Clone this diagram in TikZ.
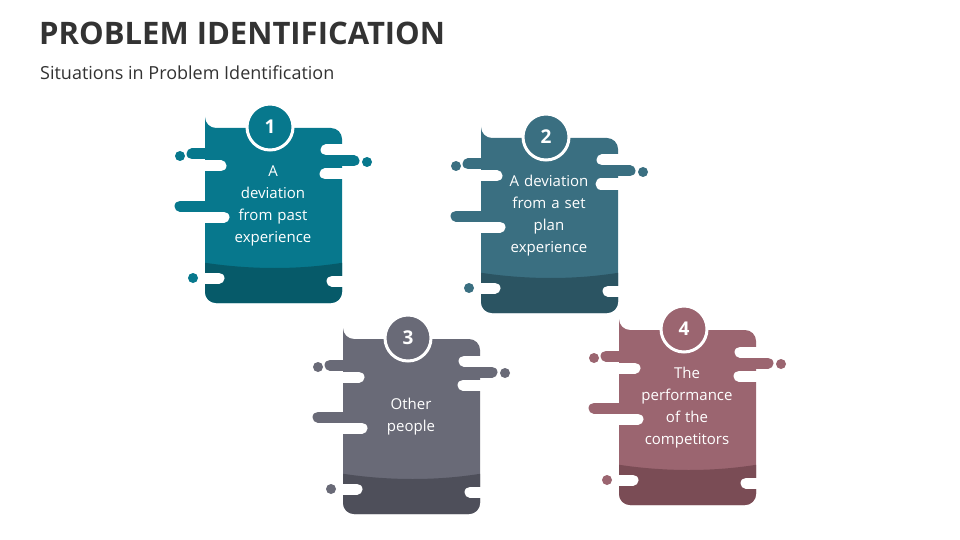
\documentclass[tikz,border=0pt]{standalone}
\usepackage{fontspec}
\setmainfont{Open Sans}
\definecolor{titlec}{HTML}{333333}
\definecolor{ca}{HTML}{07788D}\definecolor{cad}{HTML}{065A69}
\definecolor{cb}{HTML}{3A6F81}\definecolor{cbd}{HTML}{2B5462}
\definecolor{cc}{HTML}{696A77}\definecolor{ccd}{HTML}{4E4F5A}
\definecolor{cd}{HTML}{9B6570}\definecolor{cdd}{HTML}{7A4C55}
\tikzset{pill/.style={line cap=round,line width=11pt},
 txt/.style={text=white,align=center,font=\fontsize{15}{22}\selectfont,text width=95pt},
 num/.style={circle,minimum size=46pt,fill=#1,draw=white,line width=3pt,text=white,font=\bfseries\fontsize{19}{20}\selectfont}}
\newcommand{\mycard}[6]{%
\begin{scope}[shift={(#1,#2)}]
 \fill[#3] (205,128) [rounded corners=11pt] -- (205,128) -- (342,128) -- (342,303) -- (205,303) -- cycle;
 \begin{scope}
 \clip[rounded corners=11pt] (205,128) rectangle (342,303);
 \fill[#4] (200,262) .. controls (250,270) and (300,270) .. (347,262) -- (347,310) -- (200,310) -- cycle;
 \end{scope}
 % left top
 \draw[pill,#3] (192,154) -- (212,154);
 \draw[pill,white] (200,166) -- (221,166);
 \fill[#3] (180,156) circle (5);
 % left mid
 \draw[pill,#3] (180,206) -- (212,206);
 \draw[pill,white] (200,217) -- (224,217);
 % right top
 \draw[pill,white] (326,150) -- (352,150);
 \draw[pill,#3] (335,161) -- (354,161);
 \fill[#3] (367,162) circle (5);
 \draw[pill,white] (325,174) -- (350,174);
 % bottom
 \draw[pill,white] (200,278) -- (219,278);
 \fill[#3] (193,278) circle (5);
 \draw[pill,white] (332,281) -- (350,281);
 \node[num=#3] (n#5) at (270,127) {#5};
 \node[txt] (t#5) at (273,206) {#6};
\end{scope}}
\begin{document}
\begin{tikzpicture}[x=1pt,y=-1pt]
\useasboundingbox[fill=white] (0,0) rectangle (960,540);
\node[anchor=base west,inner sep=0,text=titlec,font=\bfseries\fontsize{31}{34}\selectfont] (title) at (39,45) {PROBLEM IDENTIFICATION};
\node[anchor=base west,inner sep=0,text=titlec,font=\fontsize{18}{22}\selectfont] (sub) at (40,80) {Situations in Problem Identification};
\mycard{0}{0}{ca}{cad}{1}{A\\deviation\\from past\\experience}
\mycard{276}{10}{cb}{cbd}{2}{A deviation\\from a set\\plan\\experience}
\mycard{138}{211}{cc}{ccd}{3}{Other\\people}
\mycard{414}{202}{cd}{cdd}{4}{The\\performance\\of the\\competitors}
\end{tikzpicture}
\end{document}
